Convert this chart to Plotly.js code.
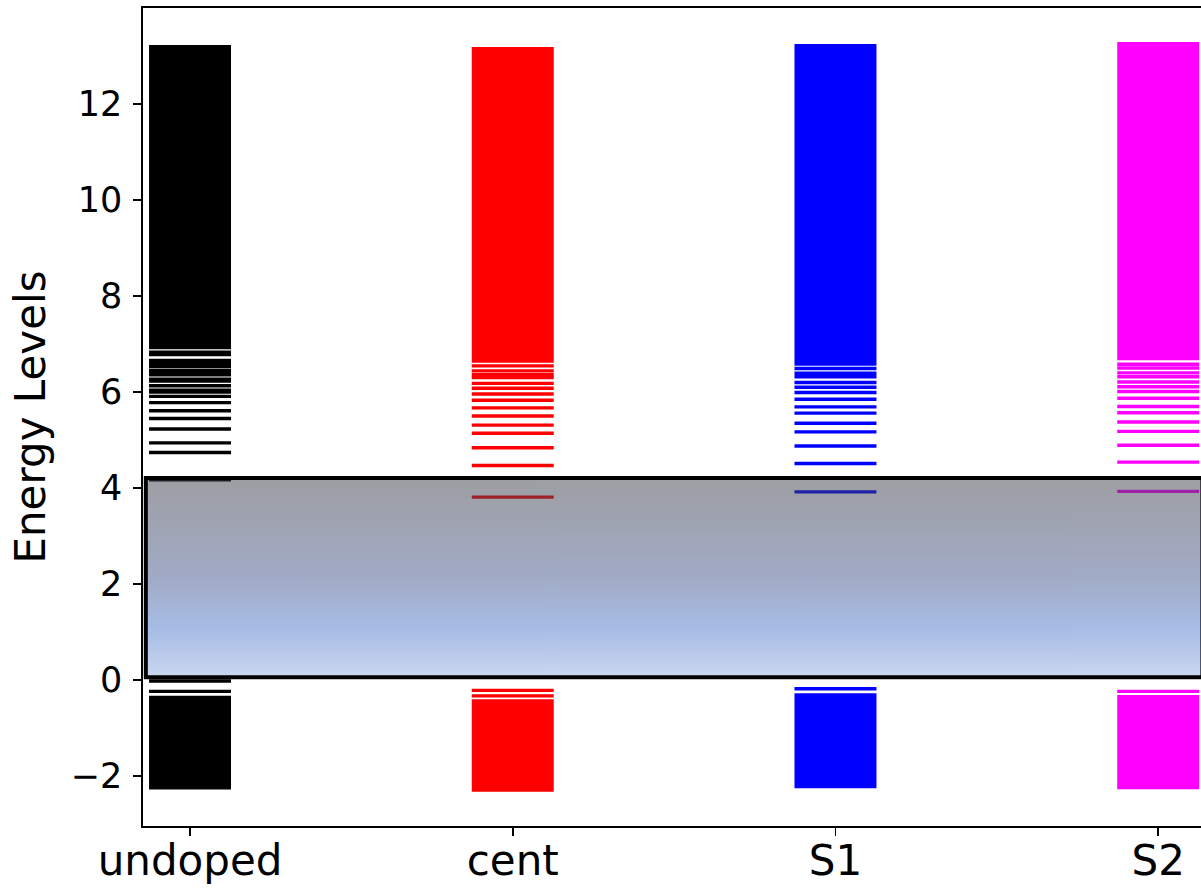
<!DOCTYPE html>
<html>
<head>
<meta charset="utf-8">
<script src="https://cdn.plot.ly/plotly-3.0.1.min.js"></script>
<style>
  html, body { margin: 0; padding: 0; overflow: hidden; background: #fff; }
  #chart { width: 1210px; height: 890px; }
</style>
</head>
<body>
<div id="chart"></div>
<script>
// Systems compared, one column each
const categories = ["undoped", "cent", "S1", "S2"];
const colors = ["#000000", "#ff0000", "#0000ff", "#ff00ff"];

// Discrete unoccupied levels (LUMO upwards) for each system
const undopedLevels = [4.17, 4.74, 4.94, 5.23, 5.45, 5.61, 5.78, 5.91, 6.00, 6.04, 6.13, 6.23, 6.27, 6.36, 6.42, 6.45, 6.53, 6.59, 6.66, 6.78, 6.83];
const centLevels    = [3.81, 4.47, 4.84, 5.14, 5.31, 5.50, 5.67, 5.83, 5.96, 6.08, 6.18, 6.30, 6.36, 6.44, 6.545];
const s1Levels      = [3.92, 4.51, 4.875, 5.17, 5.35, 5.56, 5.69, 5.85, 5.99, 6.10, 6.20, 6.32, 6.39, 6.49];
const s2Levels      = [3.93, 4.54, 4.89, 5.18, 5.375, 5.57, 5.70, 5.87, 6.01, 6.11, 6.21, 6.32, 6.40, 6.50, 6.58];

// Discrete occupied levels just below the gap
const undopedOcc = [-0.02, -0.235];
const centOcc    = [-0.215, -0.33];
const s1Occ      = [-0.18];
const s2Occ      = [-0.235];

// Dense continua: [bottom, top] of the upper and lower manifolds
const upperBottom = [6.89, 6.61, 6.55, 6.66];
const upperTop    = [13.23, 13.19, 13.25, 13.29];
const lowerTop    = [-0.327, -0.402, -0.277, -0.3125];
const lowerBottom = [-2.28, -2.327, -2.256, -2.277];

// Reference gap of the undoped system
const gapLow = 0.06;
const gapHigh = 4.21;

const yTicks = [-2, 0, 2, 4, 6, 8, 10, 12];

const levelSets = [undopedLevels.concat(undopedOcc), centLevels.concat(centOcc),
                   s1Levels.concat(s1Occ), s2Levels.concat(s2Occ)];

const halfW = 0.127;      // half width of each column
const xMin = -0.1457, xMax = 3.145;

const traces = [];
categories.forEach((name, i) => {
  // manifolds as filled blocks
  const bx = [], by = [];
  [[upperBottom[i], upperTop[i]], [lowerBottom[i], lowerTop[i]]].forEach(([b, t]) => {
    bx.push(i - halfW, i + halfW, i + halfW, i - halfW, i - halfW, null);
    by.push(b, b, t, t, b, null);
  });
  traces.push({
    type: "scatter", mode: "lines", x: bx, y: by, fill: "toself",
    fillcolor: colors[i], line: { width: 0, color: colors[i] },
    hoverinfo: "skip", showlegend: false
  });
  // individual levels as horizontal strokes
  const lx = [], ly = [];
  levelSets[i].forEach(e => {
    lx.push(i - halfW, i + halfW, null);
    ly.push(e, e, null);
  });
  traces.push({
    type: "scatter", mode: "lines", x: lx, y: ly,
    line: { width: 3.4, color: colors[i] },
    hoverinfo: "skip", showlegend: false, name: name
  });
});

// translucent vertical gradient for the gap region
function gapGradient() {
  const c = document.createElement("canvas");
  c.width = 4; c.height = 256;
  const g = c.getContext("2d");
  const grd = g.createLinearGradient(0, 0, 0, 256);
  grd.addColorStop(0.0, "rgba(61,63,71,0.5)");
  grd.addColorStop(0.5, "rgba(69,87,141,0.5)");
  grd.addColorStop(0.75, "rgba(79,121,203,0.5)");
  grd.addColorStop(1.0, "rgba(150,175,225,0.5)");
  g.fillStyle = grd;
  g.fillRect(0, 0, 4, 256);
  return c.toDataURL("image/png");
}

const gapX0 = -0.137, gapX1 = 3.137;

const layout = {
  width: 1210, height: 890,
  margin: { l: 143, r: 5, t: 8, b: 64 },
  paper_bgcolor: "#ffffff", plot_bgcolor: "#ffffff",
  font: { family: "DejaVu Sans, sans-serif", size: 35, color: "#000" },
  showlegend: false,
  xaxis: {
    range: [xMin, xMax], tickmode: "array", tickvals: [0, 1, 2, 3], ticktext: categories,
    showgrid: false, zeroline: false, showline: true, linecolor: "#000", linewidth: 1.8,
    mirror: true, ticks: "outside", ticklen: 8, tickwidth: 1.8, tickcolor: "#000",
    tickfont: { size: 42 }, ticklabelstandoff: -11
  },
  yaxis: {
    range: [-3.04, 14.0], tickmode: "array", tickvals: yTicks,
    ticktext: yTicks.map(v => v < 0 ? "\u2212" + Math.abs(v) : String(v)),
    showgrid: false, zeroline: false, showline: true, linecolor: "#000", linewidth: 1.8,
    mirror: true, ticks: "outside", ticklen: 8, tickwidth: 1.8, tickcolor: "#000",
    tickfont: { size: 35 }, ticklabelstandoff: 4,
    title: { text: "Energy Levels", font: { size: 42 }, standoff: 12 }
  },
  images: [{
    source: gapGradient(), xref: "x", yref: "y",
    x: gapX0, y: gapHigh, sizex: gapX1 - gapX0, sizey: gapHigh - gapLow,
    xanchor: "left", yanchor: "top", sizing: "stretch", layer: "above", opacity: 1
  }],
  shapes: [{
    type: "rect", xref: "x", yref: "y", x0: gapX0, x1: gapX1, y0: gapLow, y1: gapHigh,
    line: { color: "#000", width: 4 }, fillcolor: "rgba(0,0,0,0)", layer: "above"
  }]
};

Plotly.newPlot("chart", traces, layout, { staticPlot: true, displayModeBar: false });
</script>
</body>
</html>
